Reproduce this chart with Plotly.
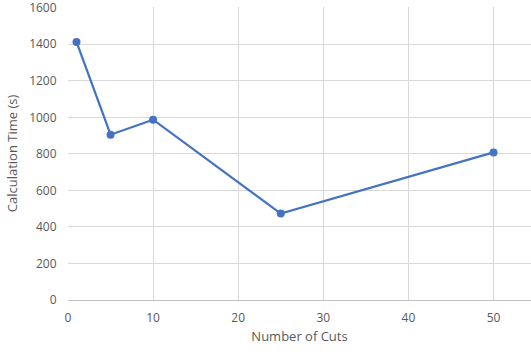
import plotly.graph_objects as go

cuts = [1, 5, 10, 25, 50]
calc_time = [1413, 905, 987, 473, 808]
x_ticks = [0, 10, 20, 30, 40, 50]
y_ticks = [0, 200, 400, 600, 800, 1000, 1200, 1400, 1600]

fig = go.Figure()
fig.add_trace(go.Scatter(
    x=cuts, y=calc_time, mode="lines+markers",
    line=dict(color="#4472C4", width=2.25),
    marker=dict(color="#4472C4", size=8),
    cliponaxis=False,
))

font_color = "#595959"
fig.update_layout(
    width=531, height=354,
    margin=dict(l=68, r=0, t=7, b=54),
    paper_bgcolor="white", plot_bgcolor="white",
    showlegend=False,
    font=dict(family="Open Sans, Liberation Sans, sans-serif", size=12, color=font_color),
    xaxis=dict(
        range=[0, 54.4], tickvals=x_ticks, showgrid=True, gridcolor="#D9D9D9", gridwidth=1,
        zeroline=False, showline=True, linecolor="#BFBFBF", linewidth=1,
        ticks="outside", ticklen=7, tickcolor="rgba(0,0,0,0)",
        title=dict(text="Number of Cuts", font=dict(size=13, color=font_color), standoff=6),
    ),
    yaxis=dict(
        range=[0, 1604], tickvals=y_ticks, showgrid=True, gridcolor="#D9D9D9", gridwidth=1,
        zeroline=False, showline=False, ticklabeloverflow="allow",
        ticks="outside", ticklen=8, tickcolor="rgba(0,0,0,0)",
        title=dict(text="Calculation Time (s)", font=dict(size=13, color=font_color), standoff=8),
    ),
)

fig.write_html("out.html")
